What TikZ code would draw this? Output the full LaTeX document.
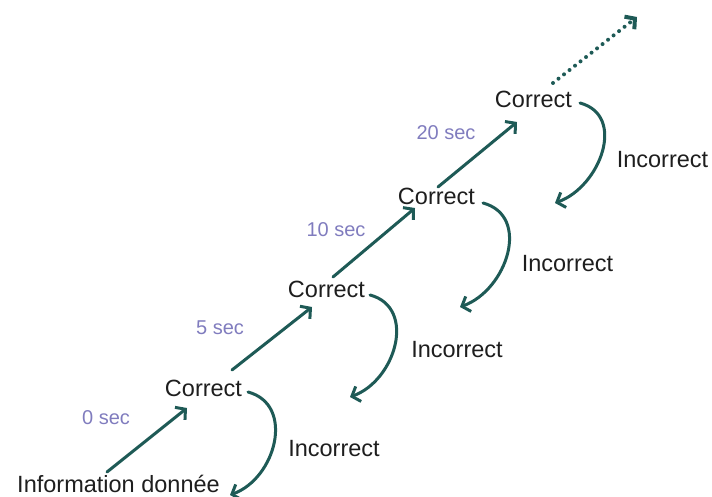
\documentclass[tikz,border=0pt]{standalone}
\usepackage{fontspec}
\setmainfont{Liberation Sans}
\usetikzlibrary{arrows.meta}

\begin{document}
\begin{tikzpicture}
		[x=1pt,y=1pt,line cap=round,
		%Styles
		answer/.style={anchor=base,inner sep=2pt,text=textcolor,font=\fontsize{23.5}{28}\selectfont},
		delay/.style={anchor=base,inner sep=2pt,text=delaycolor,font=\fontsize{20}{24}\selectfont},
		forward/.style={draw=arrowcolor,line width=3pt,-{Straight Barb[length=7pt,width=16pt]}},
		back/.style={forward,out=-15,in=20,looseness=1.2}
		]
		
		%Colors
		\definecolor{arrowcolor}{RGB}{30,90,86}
		\definecolor{delaycolor}{RGB}{128,124,190}
		\definecolor{textcolor}{RGB}{30,30,30}
		
		\useasboundingbox (0,0) rectangle (712,497);
		
		%The graphic
		\node[answer] (info) at (118.5,4) {Information donnée};
		\node[answer] (c1) at (203.5,100) {Correct};
		\node[answer] (c2) at (326.5,199) {Correct};
		\node[answer] (c3) at (436.5,292) {Correct};
		\node[answer] (c4) at (533.5,389) {Correct};
		
		\node[answer] (i1) at (334,40) {Incorrect};
		\node[answer] (i2) at (457,139) {Incorrect};
		\node[answer] (i3) at (567.5,225) {Incorrect};
		\node[answer] (i4) at (662.5,329) {Incorrect};
		
		\node[delay] (d0) at (106,72) {0 sec};
		\node[delay] (d5) at (220,162) {5 sec};
		\node[delay] (d10) at (336,260) {10 sec};
		\node[delay] (d20) at (446,357) {20 sec};
		
		%steps up
		\draw[forward] ([shift={(-11.5,21)}]info.base) -- ([shift={(-16.5,-11)}]c1.base);
		\draw[forward] ([shift={(28.5,27)}]c1.base) -- ([shift={(-14.5,-9)}]c2.base);
		\draw[forward] ([shift={(6.5,21)}]c2.base) -- ([shift={(-21.5,-3)}]c3.base);
		\draw[forward] ([shift={(1.5,18)}]c3.base) -- ([shift={(-16.5,-14)}]c4.base);
		
		\coordinate (next) at (637,480);
		\draw[forward,line width=4pt,dash pattern=on 0pt off 7pt] ([shift={(19.5,25)}]c4.base) -- (next);
		
		%steps back
		\draw[back] ([shift={(44.5,5)}]c1.base) to ([shift={(111.5,-2)}]info.base);
		\draw[back] ([shift={(43.5,3)}]c2.base) to ([shift={(146.5,0)}]c1.base);
		\draw[back] ([shift={(46.5,2)}]c3.base) to ([shift={(133.5,-9)}]c2.base);
		\draw[back] ([shift={(46.5,5)}]c4.base) to ([shift={(118.5,2)}]c3.base);
	\end{tikzpicture}
\end{document}
